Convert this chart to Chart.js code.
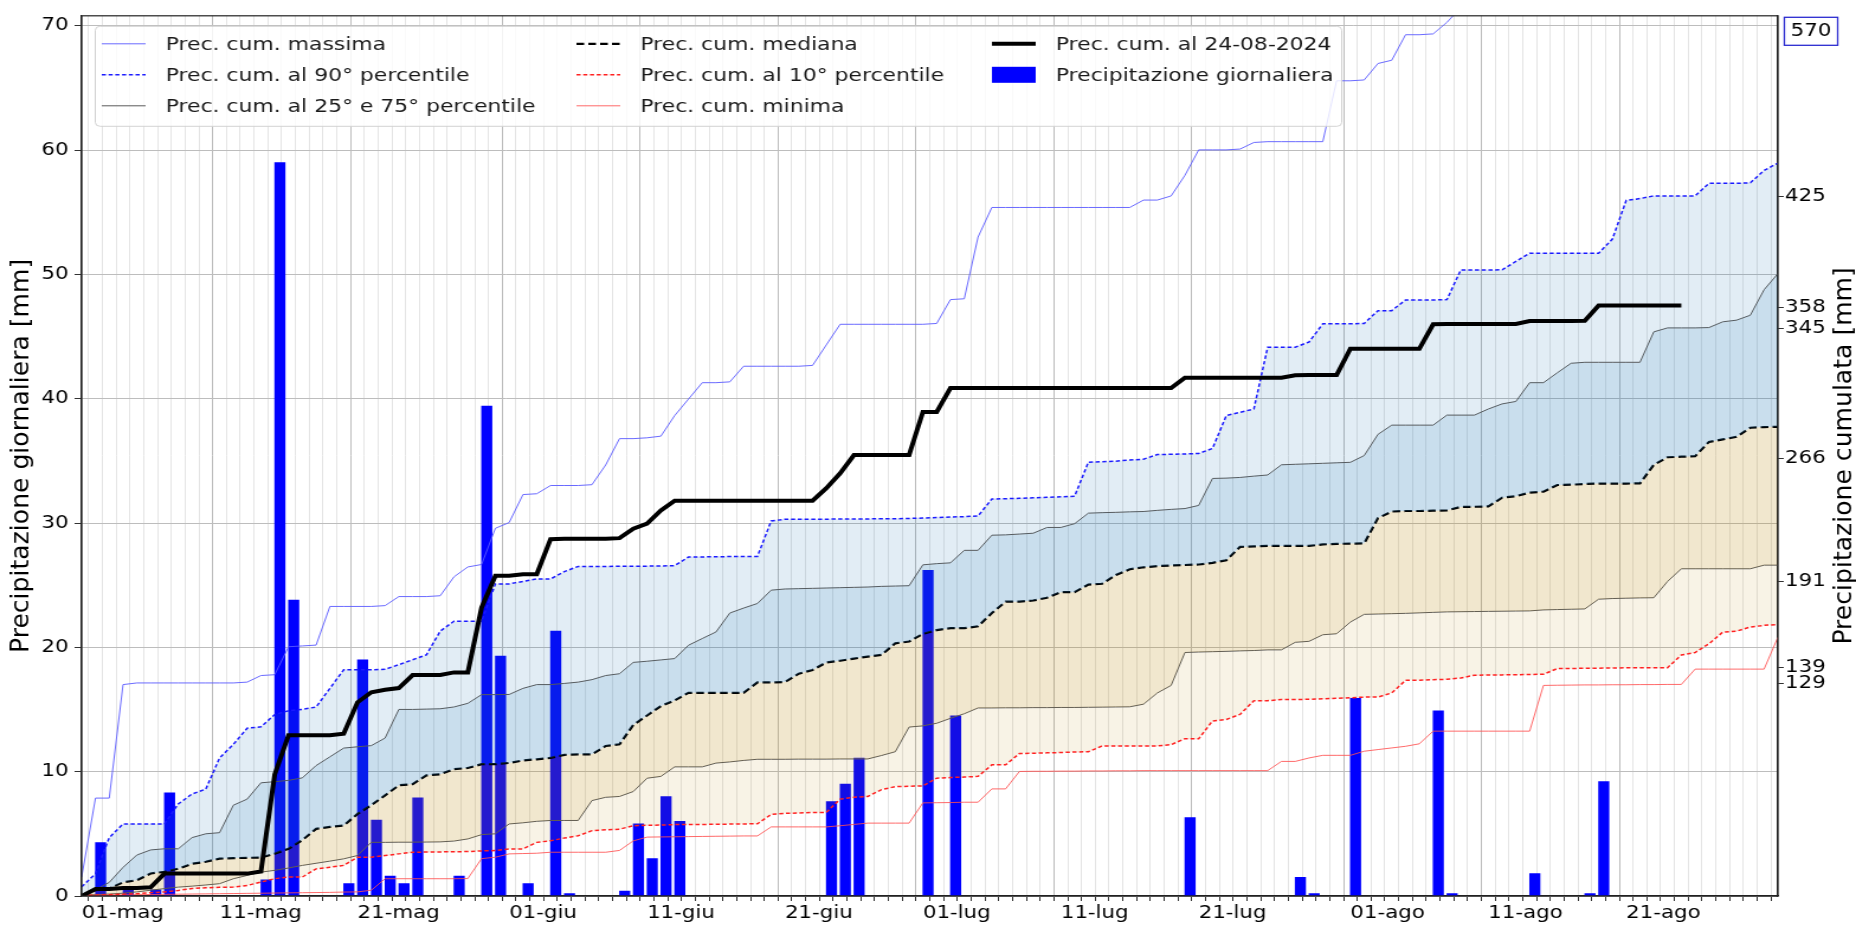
<!DOCTYPE html>
<html><head><meta charset="utf-8">
<script src="https://cdn.jsdelivr.net/npm/chart.js@4.4.1/dist/chart.umd.min.js"></script>
<style>
html,body{margin:0;padding:0;background:#fff;overflow:hidden;}
#wrap{width:1568px;height:925px;transform:scaleX(1.183673);transform-origin:0 0;}
canvas{display:block;}
</style></head><body>
<div id="wrap"><canvas id="c" width="1568" height="925" style="width:1568px;height:925px"></canvas></div>
<script>
// ---------------- DATA ----------------
// day index 0 = 01-mag
const X_TICK_DAYS   = [0,10,20,31,41,51,61,71,81,92,102,112];
const X_TICK_LABELS = ['01-mag','11-mag','21-mag','01-giu','11-giu','21-giu','01-lug','11-lug','21-lug','01-ago','11-ago','21-ago'];
const LEFT_TICKS  = [0,10,20,30,40,50,60,70];
const RIGHT_TICKS = [129,139,191,266,345,358,425];
const OFFSCALE_LABEL = '570';

// daily precipitation 2024 (mm), day 0..116
const DAILY = [
 0,4.3,0,0.5,0,0.5,8.3,0,0,0,
 0,0,0,1.3,59.0,23.8,0,0,0,1.0,
 19.0,6.1,1.6,1.0,7.9,0,0,1.6,0,39.4,
 19.3,0,1.0,0,21.3,0.2,0,0,0,0.4,
 5.8,3.0,8.0,6.0,0,0,0,0,0,0,
 0,0,0,0,7.6,9.0,11.1,0,0,0,
 0,26.2,0,14.5,0,0,0,0,0,0,
 0,0,0,0,0,0,0,0,0,0,
 6.3,0,0,0,0,0,0,0,1.5,0.2,
 0,0,15.9,0,0,0,0,0,14.9,0.2,
 0,0,0,0,0,1.8,0,0,0,0.2,
 9.2,0,0,0,0,0,0
];
// cumulated precipitation 2024 (mm), day 0..116
const CURRENT = [
 0,4.3,4.3,4.8,4.8,5.3,13.6,13.6,13.6,13.6,
 13.6,13.6,13.6,14.9,73.9,97.7,97.7,97.7,97.7,98.7,
 117.7,123.8,125.4,126.4,134.3,134.3,134.3,135.9,135.9,175.3,
 194.6,194.6,195.6,195.6,216.9,217.1,217.1,217.1,217.1,217.5,
 223.3,226.3,234.3,240.3,240.3,240.3,240.3,240.3,240.3,240.3,
 240.3,240.3,240.3,240.3,247.9,256.9,268.0,268.0,268.0,268.0,
 268.0,294.2,294.2,308.7,308.7,308.7,308.7,308.7,308.7,308.7,
 308.7,308.7,308.7,308.7,308.7,308.7,308.7,308.7,308.7,308.7,
 315.0,315.0,315.0,315.0,315.0,315.0,315.0,315.0,316.5,316.7,
 316.7,316.7,332.6,332.6,332.6,332.6,332.6,332.6,347.5,347.7,
 347.7,347.7,347.7,347.7,347.7,349.5,349.5,349.5,349.5,349.7,
 358.9,358.9,358.9,358.9,358.9,358.9,358.9
];
// climatological cumulated curves (mm), day 0..123
const CUM_MAX = [
 11.5,59.5,59.5,128.5,129.5,129.5,129.5,129.5,129.5,129.5,
 129.5,129.5,130,134,134.5,151.5,152,152.5,176,176,
 176,176,176.5,182,182,182,182.5,194,200,201.5,
 223.5,227,244,244.5,249.5,249.5,249.5,250,262,278,
 278,278.5,279.5,292,302,312,312,312.5,322,322,
 322,322,322,322.5,335,347.5,347.5,347.5,347.5,347.5,
 347.5,347.5,348,362.5,363,400.5,418.5,418.5,418.5,418.5,
 418.5,418.5,418.5,418.5,418.5,418.5,418.5,423,423,425.5,
 438,453.5,453.5,453.5,454,458,458.5,458.5,458.5,458.5,
 458.5,495.5,495.5,496,506,508,523.5,523.5,524,531,
 540,541,543,545,548,550,552,555,557,560,
 563,565,566,568,569,570,571,572,574,575,
 577,578,580,582
];
const CUM_P90 = [
 5.6,13.6,35.5,43.8,43.8,43.8,43.8,55.9,62,65,
 83.9,92.2,102,102.8,110.3,112.6,113.4,114.9,126.2,137.5,
 137.5,137.5,137.8,140.6,143.6,146.6,161,167,167,167,
 189.7,189.7,191.2,192.7,192.7,197.2,200.3,200.3,200.3,200.5,
 200.5,200.5,200.6,200.8,206,206.1,206.2,206.3,206.3,206.4,
 228,229,229,229,229,229.2,229.2,229.2,229.3,229.3,
 229.5,229.7,230,230.3,230.6,231,241.3,241.5,241.7,242,
 242.3,242.6,243,263.7,264,264.3,265,265.5,268.3,268.5,
 268.7,269,272,292,294,296,333.5,333.5,333.6,336.7,
 347.8,347.8,347.8,348,355.8,355.8,362.3,362.3,362.3,362.5,
 380.5,380.5,380.5,380.6,385.7,390.7,390.7,390.7,390.7,390.7,
 390.7,399.3,422.8,423.9,425.5,425.5,425.5,425.5,433.2,433.2,
 433.2,433.5,441,445.5
];
const CUM_P75 = [
 0.5,3.8,8.3,17.4,24.9,28,28.7,28.7,35.5,37.8,
 38.5,55.2,58.9,68.8,69.5,70.3,71.8,79.3,84.6,89.9,
 90.7,91.4,96,113.4,113.4,113.6,113.8,114.9,117.1,122.4,
 122.4,122.5,126.2,128.5,128.5,129.2,130,131.5,134,135.1,
 142,142.7,143.5,144.3,152.4,156.5,160.5,172,175,177.8,
 185.9,186.6,186.8,187,187.2,187.4,187.6,187.8,188.2,188.4,
 188.6,201.3,202,202.5,210.1,210.1,219.3,219.5,220,220.5,
 224,224,226.3,232.7,233,233.2,233.5,233.7,234.4,235,
 235.5,237.4,253.8,254,254.4,255.2,255.9,262.1,262.4,262.7,
 263,263.3,263.6,267.7,280.6,286.2,286.2,286.2,286.2,292.3,
 292.3,292.3,296,299.1,300.6,312,312,318,323.8,324.4,
 324.4,324.4,324.4,324.4,342.9,345.3,345.3,345.3,345.5,349,
 350,353,368.5,378.3
];
const CUM_MEDIAN = [
 0.5,3.6,4.6,8.3,9.6,13.7,14.7,16.6,19.6,20.8,
 22.7,23,23.2,23.4,25.7,28.7,34,40.8,42,42.8,
 49.9,55.2,61.2,67.3,68,73.3,74,77.1,77.8,80.1,
 80.1,80.9,82.4,83.1,83.9,85.8,86.1,86.1,91.2,92.2,
 104,109.7,115.4,118.9,123.5,123.5,123.5,123.5,123.5,129.8,
 129.8,130,135.1,137.4,142,143,144.3,145.5,146.6,153.6,
 154.7,159.3,161.6,162.8,162.8,163.9,172,178.9,178.9,179.6,
 181.3,184.7,184.7,189.3,189.8,195.1,198.6,199.8,200.5,200.9,
 201.2,201.5,202.5,204.1,212.2,212.5,212.8,212.8,212.8,212.8,
 213.7,214,214.2,214.3,229.7,233.7,234,234,234.2,234.4,
 236.5,236.6,236.8,242.1,243,245.2,245.8,249.8,250,250.4,
 250.7,250.7,250.7,250.8,262.1,266.7,267,267.3,276,277.5,
 279.1,284.6,285,285.2
];
const CUM_P25 = [
 0.4,0.8,1.2,1.7,2.5,3.5,4.5,5.4,6,6.7,
 7.5,10.5,12.5,14.5,15.6,17,18.6,19.9,21.2,22.6,
 24.6,32.6,32.6,32.7,32.7,32.8,32.9,33.4,34.7,37.3,
 37.8,43.8,44.5,45.4,45.9,45.9,45.9,58,60,60.5,
 63.5,71.6,72.7,78.5,78.5,78.5,80.8,81.5,82.4,83.1,
 83.1,83.1,83.2,83.2,83.2,83.3,83.3,83.3,85.4,87.7,
 102.7,103.4,105,108,110.8,114.3,114.3,114.4,114.4,114.5,
 114.5,114.6,114.6,114.7,114.8,114.9,115,116.6,123.4,128,
 148,148.3,148.5,148.7,149,149.2,149.6,149.6,154.2,154.8,
 158.8,159.4,166.5,171.2,171.4,171.6,171.8,172.1,172.4,172.7,
 172.8,172.9,173,173.1,173.2,173.3,173.9,174.1,174.3,174.5,
 180.4,180.8,181,181.2,181.3,191.2,198.9,198.9,198.9,198.9,
 198.9,198.9,201.1,201.1
];
const CUM_P10 = [
 0.3,0.5,0.8,1.1,1.4,2,2.5,3.4,4.5,5,
 5.3,5.4,6.4,8.5,10.5,11.5,11.5,16.5,17.5,18.6,
 23.6,23.6,24.6,25.6,26.6,26.7,26.8,26.9,27,27.4,
 27.6,28.6,28.6,32.6,33.6,35.2,36.6,39.7,40.2,40.6,
 42.7,43,43.1,43.4,43.4,43.5,43.6,43.7,43.8,43.9,
 49.6,50.2,50.5,50.8,50.8,58.9,60,60.5,64.6,66.5,
 66.7,66.9,71.6,72,72.3,72.7,79.7,79.7,86.6,86.8,
 87,87.2,87.5,87.7,91.2,91.2,91.2,91.2,91.2,92,
 95.6,95.6,106.4,107.3,110.4,118.7,118.7,119.4,119.4,119.6,
 119.9,120.2,120.5,120.9,120.9,123.4,131.1,131.2,131.5,131.7,
 132.5,134.2,134.3,134.4,134.5,134.6,134.8,138.2,138.3,138.4,
 138.5,138.6,138.7,138.7,138.8,138.8,146.5,148,153.3,160.4,
 161,163.5,164.5,165
];
const CUM_MIN = [
 0.3,0.5,0.6,0.7,0.8,0.9,1,1.1,1.2,1.3,
 1.4,1.5,1.6,1.7,1.8,1.9,2,2.1,2.2,2.4,
 2.5,3.5,10.5,10.5,10.5,10.5,10.5,10.5,10.6,22.7,
 23.6,25.6,25.8,26,26.6,26.6,26.6,26.6,26.6,27.7,
 33.5,35.8,35.9,36,36.1,36.2,36.3,36.4,36.5,36.5,
 42,42,42,42,42,42.7,43.5,44.3,44.3,44.3,
 44.3,56.6,56.7,56.8,57,57,65.1,65.1,75.7,75.8,
 75.8,75.9,75.9,76,76,76.1,76.1,76.2,76.2,76.2,
 76.2,76.2,76.2,76.2,76.2,76.2,76.2,81.8,81.8,83.9,
 85.5,85.5,85.5,88,89,90,91,92.5,100.2,100.2,
 100.2,100.2,100.2,100.2,100.2,100.2,128,128.1,128.2,128.3,
 128.3,128.4,128.4,128.5,128.5,128.6,128.6,137.9,137.9,137.9,
 137.9,137.9,137.9,157.3
];

// ---------------- CHART ----------------
const FONT = "'DejaVu Sans', 'Noto Sans', sans-serif";
const FS = 18;
const LEGEND_FS = 18.5;
const TITLE_FS = 22;
const TITLE_STRETCH = 1.14;
const BAR_SHIFT = 0.375;   // bars drawn from day start (edge-aligned)
const X_MAX = 123;
const ALL_DAYS = CUM_MAX.map((_, i) => i);

Chart.defaults.font.family = FONT;
Chart.defaults.font.size = FS;
Chart.defaults.color = '#000';

const pts = arr => arr.map((v, i) => ({x: i, y: v}));
const BLUE_BAND = 'rgba(31,119,180,0.13)';
const BLUE_BAND2 = 'rgba(31,119,180,0.24)';
const TAN_BAND = 'rgba(184,134,11,0.20)';
const TAN_BAND2 = 'rgba(184,134,11,0.10)';

const datasets = [
  {type:'line', label:'Prec. cum. massima', data: pts(CUM_MAX), yAxisID:'y2', borderColor:'rgba(90,90,255,0.9)', borderWidth:1, pointRadius:0, order:5, fill:false},
  {type:'line', label:'Prec. cum. al 90° percentile', data: pts(CUM_P90), yAxisID:'y2', borderColor:'#1a1aff', borderWidth:1.5, borderDash:[3.5,2.2], pointRadius:0, order:4,
    fill:{target:2, above:BLUE_BAND, below:BLUE_BAND}},
  {type:'line', label:'Prec. cum. al 25° e 75° percentile', data: pts(CUM_P75), yAxisID:'y2', borderColor:'#5a5a5a', borderWidth:1, pointRadius:0, order:4,
    fill:{target:3, above:BLUE_BAND2, below:BLUE_BAND2}},
  {type:'line', label:'Prec. cum. mediana', data: pts(CUM_MEDIAN), yAxisID:'y2', borderColor:'#000', borderWidth:2.2, borderDash:[6.5,3.5], pointRadius:0, order:4,
    fill:{target:4, above:TAN_BAND, below:TAN_BAND}},
  {type:'line', label:'Prec. cum. al 25° percentile', data: pts(CUM_P25), yAxisID:'y2', borderColor:'#5a5a5a', borderWidth:1, pointRadius:0, order:4,
    fill:{target:5, above:TAN_BAND2, below:TAN_BAND2}},
  {type:'line', label:'Prec. cum. al 10° percentile', data: pts(CUM_P10), yAxisID:'y2', borderColor:'#ff2020', borderWidth:1.5, borderDash:[3.5,2.2], pointRadius:0, order:3, fill:false},
  {type:'line', label:'Prec. cum. minima', data: pts(CUM_MIN), yAxisID:'y2', borderColor:'rgba(255,80,80,0.85)', borderWidth:1, pointRadius:0, order:3, fill:false},
  {type:'line', label:'Prec. cum. al 24-08-2024', data: pts(CURRENT), yAxisID:'y2', borderColor:'#000', borderWidth:4, pointRadius:0, order:0, fill:false, borderCapStyle:'butt'},
  {type:'bar', label:'Precipitazione giornaliera', data: DAILY.map((v, i) => ({x: i + BAR_SHIFT, y: v})).filter(p => p.y > 0),
    yAxisID:'y', backgroundColor:'#0000ff', borderWidth:0, barThickness:8.7, order:10}
];

// legend layout: [dataset index, column, row, kind]
const LEGEND_ITEMS = [
  [0,0,0,'line'],[1,0,1,'line'],[2,0,2,'line'],
  [3,1,0,'line'],[5,1,1,'line'],[6,1,2,'line'],
  [7,2,0,'line'],[8,2,1,'bar']
];

function roundRect(ctx, x, y, w, h, r) {
  ctx.beginPath();
  ctx.moveTo(x + r, y);
  ctx.lineTo(x + w - r, y); ctx.quadraticCurveTo(x + w, y, x + w, y + r);
  ctx.lineTo(x + w, y + h - r); ctx.quadraticCurveTo(x + w, y + h, x + w - r, y + h);
  ctx.lineTo(x + r, y + h); ctx.quadraticCurveTo(x, y + h, x, y + h - r);
  ctx.lineTo(x, y + r); ctx.quadraticCurveTo(x, y, x + r, y);
  ctx.closePath();
}

function verticalTitle(ctx, text, x, y) {
  ctx.save();
  ctx.font = TITLE_FS + 'px ' + FONT;
  ctx.textBaseline = 'middle';
  ctx.textAlign = 'center';
  ctx.fillStyle = '#000';
  ctx.translate(x, y);
  ctx.rotate(-Math.PI / 2);
  ctx.scale(TITLE_STRETCH, 1);
  ctx.fillText(text, 0, 0);
  ctx.restore();
}

const overlay = {
  id: 'overlay',
  afterDatasetsDraw(chart) {
    const ctx = chart.ctx;
    const ca = chart.chartArea;
    ctx.save();
    // legend box
    const lx = ca.left + 11, ly = ca.top + 10, lw = 1053, lh = 100;
    roundRect(ctx, lx + 0.5, ly + 0.5, lw, lh, 4);
    ctx.fillStyle = 'rgba(255,255,255,0.82)';
    ctx.fill();
    ctx.strokeStyle = '#d2d2d2';
    ctx.lineWidth = 1;
    ctx.stroke();
    const colX = [lx + 6, lx + 407, lx + 758];
    const handleW = 37, textGap = 17;
    const rowY = [ly + 18, ly + 49, ly + 80];
    ctx.font = LEGEND_FS + 'px ' + FONT;
    ctx.textBaseline = 'middle';
    ctx.textAlign = 'left';
    LEGEND_ITEMS.forEach(([di, c, r, kind]) => {
      const ds = chart.data.datasets[di];
      const x0 = colX[c], y0 = rowY[r];
      if (kind === 'bar') {
        ctx.fillStyle = ds.backgroundColor;
        ctx.fillRect(x0, y0 - 8, handleW, 16);
      } else {
        ctx.beginPath();
        ctx.setLineDash(ds.borderDash || []);
        ctx.strokeStyle = ds.borderColor;
        ctx.lineWidth = ds.borderWidth;
        ctx.moveTo(x0, y0); ctx.lineTo(x0 + handleW, y0);
        ctx.stroke();
        ctx.setLineDash([]);
      }
      ctx.fillStyle = '#1a1a1a';
      ctx.fillText(ds.label, x0 + handleW + textGap, y0 + 1);
    });
    ctx.restore();
  },
  afterDraw(chart) {
    const ctx = chart.ctx;
    const ca = chart.chartArea;
    ctx.save();
    // frame
    ctx.strokeStyle = '#222';
    ctx.lineWidth = 1.2;
    ctx.strokeRect(ca.left, ca.top, ca.right - ca.left, ca.bottom - ca.top);
    // off-scale max label box
    ctx.font = FS + 'px ' + FONT;
    ctx.textBaseline = 'middle';
    ctx.textAlign = 'center';
    const bx = ca.right + 5, by = ca.top + 1, bw = 45, bh = 28;
    ctx.fillStyle = '#fff';
    ctx.fillRect(bx, by, bw, bh);
    ctx.strokeStyle = '#2b2bd0';
    ctx.lineWidth = 1.3;
    ctx.strokeRect(bx + 0.5, by + 0.5, bw, bh);
    ctx.fillStyle = '#000';
    ctx.fillText(OFFSCALE_LABEL, bx + bw / 2 + 0.5, by + bh / 2 + 1);
    ctx.restore();
    // axis titles
    const cy = (ca.top + ca.bottom) / 2;
    verticalTitle(ctx, 'Precipitazione giornaliera [mm]', 18, cy);
    verticalTitle(ctx, 'Precipitazione cumulata [mm]', 1558, cy);
  }
};

new Chart(document.getElementById('c'), {
  type: 'line',
  data: { datasets },
  options: {
    responsive: false,
    animation: false,
    devicePixelRatio: 1,
    layout: { padding: { top: 11, left: 0, right: 0, bottom: 0 } },
    plugins: { legend: { display: false }, tooltip: { enabled: false } },
    elements: { line: { tension: 0 } },
    scales: {
      x: {
        type: 'linear', min: 0, max: X_MAX, offset: false,
        afterBuildTicks: s => { s.ticks = ALL_DAYS.map(v => ({ value: v })); },
        ticks: {
          autoSkip: false, maxRotation: 0, minRotation: 0, align: 'start', padding: 2,
          font: { size: FS },
          callback: v => { const k = X_TICK_DAYS.indexOf(v); return k >= 0 ? X_TICK_LABELS[k] : ''; }
        },
        grid: {
          color: c => (c.tick && X_TICK_DAYS.includes(c.tick.value)) ? '#bcbcbc' : '#e4e4e4',
          lineWidth: 1, tickLength: 5, tickColor: '#333'
        },
        border: { display: true, color: '#222', width: 1.2 },
        afterFit: s => { s.height = 29; }
      },
      y: {
        position: 'left', min: 0, max: 70.8,
        afterBuildTicks: s => { s.ticks = LEFT_TICKS.map(v => ({ value: v })); },
        ticks: { autoSkip: false, padding: 5, font: { size: FS } },
        grid: { color: '#bdbdbd', lineWidth: 1, tickLength: 6, tickColor: '#333' },
        border: { display: true, color: '#222', width: 1.2 },
        afterFit: s => { s.width = 69; }
      },
      y2: {
        position: 'right', min: 0, max: 535,
        afterBuildTicks: s => { s.ticks = RIGHT_TICKS.map(v => ({ value: v })); },
        ticks: { autoSkip: false, padding: 1, font: { size: FS } },
        grid: { drawOnChartArea: false, tickLength: 5, tickColor: '#333' },
        border: { display: true, color: '#222', width: 1.2 },
        afterFit: s => { s.width = 66; }
      }
    }
  },
  plugins: [overlay]
});
</script>
</body></html>
